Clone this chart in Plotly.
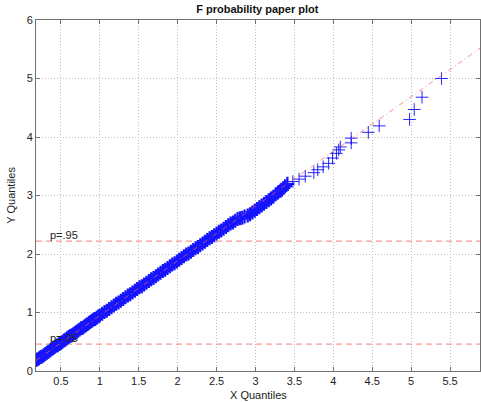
import plotly.graph_objects as go

# Sample quantiles (x = theoretical, y = sample)
# dense body of the sample
x_dense = [0.18,0.20,0.22,0.24,0.26,0.28,0.30,0.32,0.34,0.36,0.38,0.40,0.42,0.44,0.46,0.48,
           0.50,0.52,0.54,0.56,0.58,0.60,0.62,0.64,0.66,0.68,0.70,0.72,0.74,0.76,0.78,0.80,
           0.82,0.84,0.86,0.88,0.90,0.92,0.94,0.96,0.98,1.00,1.03,1.06,1.09,1.12,1.15,1.18,
           1.21,1.24,1.27,1.30,1.33,1.36,1.39,1.42,1.45,1.48,1.51,1.54,1.57,1.60,1.63,1.66,
           1.69,1.72,1.75,1.78,1.81,1.84,1.87,1.90,1.93,1.96,1.99,2.02,2.05,2.08,2.11,2.14,
           2.17,2.20,2.23,2.26,2.29,2.32,2.35,2.38,2.41,2.44,2.47,2.50,2.53,2.56,2.59,2.62,
           2.65,2.68,2.71,2.74,2.77,2.80,2.83,2.86,2.90,2.93,2.96,2.99,3.02,3.05,3.08,3.11,
           3.14,3.17,3.20,3.23,3.26,3.29,3.32,3.34,3.36,3.38,3.41]
y_dense = [0.19,0.20,0.22,0.24,0.25,0.27,0.29,0.31,0.33,0.35,0.37,0.39,0.41,0.43,0.44,0.46,
           0.48,0.50,0.52,0.54,0.56,0.58,0.60,0.61,0.63,0.65,0.67,0.69,0.71,0.73,0.74,0.76,
           0.78,0.80,0.82,0.84,0.86,0.88,0.89,0.91,0.93,0.95,0.98,1.01,1.03,1.06,1.09,1.12,
           1.15,1.17,1.20,1.23,1.26,1.29,1.31,1.34,1.37,1.40,1.43,1.45,1.48,1.51,1.54,1.57,
           1.59,1.62,1.65,1.68,1.71,1.73,1.76,1.79,1.82,1.84,1.87,1.90,1.93,1.96,1.99,2.01,
           2.04,2.07,2.10,2.12,2.15,2.18,2.21,2.24,2.27,2.29,2.32,2.35,2.38,2.40,2.43,2.46,
           2.49,2.52,2.54,2.57,2.60,2.61,2.62,2.64,2.66,2.68,2.71,2.74,2.77,2.80,2.83,2.86,
           2.89,2.92,2.95,2.98,3.02,3.05,3.08,3.10,3.13,3.16,3.20]
# upper tail of the sample
x_tail = [3.48,3.56,3.64,3.75,3.80,3.87,3.94,3.99,4.04,4.07,4.09,4.23,4.23,4.45,4.59,
          4.98,5.04,5.14,5.39]
y_tail = [3.24,3.28,3.33,3.39,3.44,3.49,3.55,3.64,3.72,3.78,3.83,3.90,3.98,4.08,4.19,
          4.30,4.47,4.68,5.00]

# Reference line (two end points)
ref_x = [0.18, 5.89]
ref_y = [0.18, 5.52]

# Probability levels
p_labels = ["p=.05", "p=.95"]
p_values = [0.46, 2.22]

x_range = [0.18, 5.885]
y_range = [0, 6]
x_ticks = [0.5, 1, 1.5, 2, 2.5, 3, 3.5, 4, 4.5, 5, 5.5]
x_ticktext = ["0.5", "1", "1.5", "2", "2.5", "3", "3.5", "4", "4.5", "5", "5.5"]
y_ticks = [0, 1, 2, 3, 4, 5, 6]

FONT = "Liberation Sans, Arial"

fig = go.Figure()

for pv in p_values:
    fig.add_trace(go.Scatter(x=x_range, y=[pv, pv], mode="lines",
                             line=dict(color="rgb(245,125,125)", width=1, dash="6px,4px"),
                             hoverinfo="skip", showlegend=False))

fig.add_trace(go.Scatter(x=x_dense, y=y_dense, mode="markers",
                         marker=dict(symbol="cross-thin", size=10,
                                     line=dict(color="rgb(20,20,255)", width=2.2)),
                         showlegend=False))
fig.add_trace(go.Scatter(x=x_tail, y=y_tail, mode="markers",
                         marker=dict(symbol="cross-thin", size=9,
                                     line=dict(color="rgba(0,0,255,0.85)", width=1)),
                         showlegend=False))

fig.add_trace(go.Scatter(x=ref_x, y=ref_y, mode="lines",
                         line=dict(color="rgba(250,90,90,0.7)", width=1, dash="5px,3px,1px,3px"),
                         showlegend=False))

for lab, pv in zip(p_labels, p_values):
    fig.add_annotation(x=0.33, y=pv, text=lab, showarrow=False, xanchor="left",
                       yanchor="bottom", yshift=-2,
                       font=dict(family=FONT, size=11, color="#222"))

fig.add_annotation(xref="paper", yref="paper", x=0.5, y=-0.045, yanchor="top",
                   text="X Quantiles", showarrow=False,
                   font=dict(family=FONT, size=11, color="#222"))
fig.add_annotation(xref="paper", yref="paper", x=-0.04, xanchor="right", y=0.5,
                   text="Y Quantiles", textangle=-90, showarrow=False,
                   font=dict(family=FONT, size=11, color="#222"))

axis_common = dict(showline=True, linecolor="#707070", linewidth=1, mirror="ticks",
                   ticks="inside", ticklen=4, tickcolor="#707070", automargin=False,
                   showgrid=True, gridcolor="#bdbdbd", griddash="1px,2px", gridwidth=1,
                   zeroline=False, tickfont=dict(family=FONT, size=11, color="#222"))

fig.update_xaxes(range=x_range, tickvals=x_ticks, ticktext=x_ticktext, **axis_common)
fig.update_yaxes(range=y_range, tickvals=y_ticks, **axis_common)

fig.update_layout(
    width=481, height=402,
    margin=dict(l=36, r=1, t=20, b=31),
    paper_bgcolor="white", plot_bgcolor="white",
    title=dict(text="<b>F probability paper plot</b>", x=0.535, xanchor="center",
               y=0.978, yanchor="middle", yref="container",
               font=dict(family=FONT, size=11, color="#111")),
    font=dict(family=FONT, size=11),
)

fig.write_html("out.html", config={"displayModeBar": False},
               post_script="document.body.style.margin='0';document.body.style.padding='0';")
